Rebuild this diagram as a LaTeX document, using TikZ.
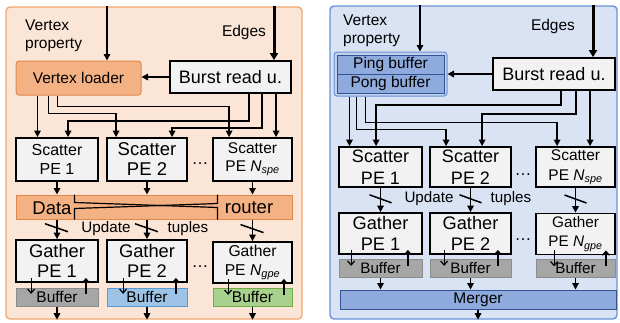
\documentclass[tikz,border=0pt]{standalone}
\usepackage{fontspec}
\setmainfont{Liberation Sans}
\usetikzlibrary{arrows.meta,calc}

\definecolor{lpfill}{HTML}{FBE5D6}
\definecolor{lpdraw}{HTML}{F2A772}
\definecolor{vlfill}{HTML}{F4B183}
\definecolor{vldraw}{HTML}{E0884C}
\definecolor{boxfill}{HTML}{F2F2F2}
\definecolor{grayfill}{HTML}{A6A6A6}
\definecolor{graydraw}{HTML}{8C8C8C}
\definecolor{bluefill}{HTML}{9DC3E6}
\definecolor{bluedraw}{HTML}{5B9BD5}
\definecolor{greenfill}{HTML}{A9D18E}
\definecolor{greendraw}{HTML}{70AD47}
\definecolor{rpfill}{HTML}{DAE3F3}
\definecolor{rpdraw}{HTML}{6A92D8}
\definecolor{ppfill}{HTML}{8FAADC}
\definecolor{ppdraw}{HTML}{2F5597}

\newcommand{\fz}[2]{\fontsize{#1}{#2}\selectfont}

\begin{document}
\begin{tikzpicture}[x=1pt,y=-1pt,
  panel/.style={rounded corners=4pt, line width=1.4pt, inner sep=0pt},
  pe/.style={draw=black, line width=1.8pt, fill=boxfill, align=center, inner sep=0pt},
  conn/.style={line width=1.5pt, -{Triangle[length=6.5pt,width=6.5pt]}},
  thickconn/.style={line width=3pt, -{Triangle[length=7pt,width=8pt]}},
  barb/.style={line width=1.2pt, -{Straight Barb[length=4pt,width=7pt]}},
  wire/.style={line width=1.5pt},
  lbl/.style={inner sep=0pt, align=left},
  buf/.style={line width=1pt, inner sep=0pt, minimum height=18pt},
  dots/.style={inner sep=0pt, anchor=base, font=\fz{17}{18}},
]
\useasboundingbox (0,0) rectangle (620,322);

% ---------------- left panel ----------------
\node[panel, draw=lpdraw, fill=lpfill, minimum width=296pt, minimum height=312pt] (lp) at (154,163) {};

\node[lbl, anchor=west, font=\fz{15.5}{18}] (vp1) at (25,36) {Vertex\\property};
\node[lbl, font=\fz{15.5}{18}] (ed1) at (244,32) {Edges};

\node[draw=vldraw, fill=vlfill, line width=1pt, rounded corners=3pt, inner sep=0pt,
      minimum width=125pt, minimum height=34pt, font=\fz{15.5}{18}] (vl) at (78.5,78) {Vertex loader};
\node[pe, minimum width=121pt, minimum height=32pt, font=\fz{18}{20}] (br) at (230.5,77) {Burst read u.};

\coordinate (vlin) at ([xshift=28.5pt]vl.north);
\draw[conn] (vlin |- lp.north) -- (vlin);
\coordinate (brin) at ([xshift=43.5pt]br.north);
\draw[thickconn] (brin |- lp.north) -- (brin);
\draw[conn] (br.west) -- (br.west -| vl.east);

% scatter PEs
\node[pe, minimum width=82pt, minimum height=43pt, font=\fz{16}{19}] (sp1) at (57,159.5) {Scatter\\PE 1};
\node[pe, minimum width=80pt, minimum height=43pt, font=\fz{18.5}{20}] (sp2) at (147,159.5) {Scatter\\PE 2};
\node[pe, minimum width=79pt, minimum height=43pt, font=\fz{15.5}{18}] (spN) at (252.5,159.5) {Scatter\\PE \textit{N}\textsubscript{\textit{spe}}};
\node[dots] (sd1) at (200,164) {…};

% distribution wires
\coordinate (vlb1) at ([xshift=22pt]vl.south west);
\coordinate (vlb2) at ([xshift=33pt]vl.south west);
\coordinate (vlb3) at ([xshift=42pt]vl.south west);
\coordinate (brb1) at ([xshift=80pt]br.south west);
\coordinate (brb2) at ([xshift=93pt]br.south west);
\coordinate (brb3) at ([xshift=107pt]br.south west);
\draw[conn] (vlb1) -- (vlb1 |- sp1.north);
\draw[conn] (vlb2) -- ++(0,18) -| ([xshift=10pt]sp2.north west);
\draw[conn] (vlb3) -- ++(0,11) -| ([xshift=17pt]spN.north west);
\draw[conn] (brb1) -- ++(0,27) -| ([xshift=53pt]sp1.north west);
\draw[conn] (brb2) -- ++(0,34) -| ([xshift=66pt]sp2.north west);
\draw[conn] (brb3) -- (brb3 |- spN.north);

% data router
\node[draw=vldraw, fill=vlfill, line width=1pt, inner sep=0pt,
      minimum width=276pt, minimum height=24pt] (dr) at (154,207) {};
\node[inner sep=0pt, font=\fz{18.5}{20}] (drl) at (52,208) {Data};
\node[inner sep=0pt, font=\fz{18.5}{20}] (drr) at (249,208) {router};
\coordinate (xa) at ([xshift=59pt]dr.north west);
\draw[line width=1.2pt] (xa) -- ++(0,8) -- ++(143,5) -- ([xshift=202pt]dr.south west);
\draw[line width=1.2pt] (xa |- dr.south) -- ++(0,-11) -- ++(143,-5) -- ([xshift=202pt]dr.north west);

\draw[conn] (sp1.south) -- (sp1.south |- dr.north);
\draw[conn] (sp2.south) -- (sp2.south |- dr.north);
\draw[conn] (spN.south) -- (spN.south |- dr.north);

% gather PEs
\node[pe, minimum width=82pt, minimum height=42pt, font=\fz{18.3}{20}] (gp1) at (57,261) {Gather\\PE 1};
\node[pe, minimum width=80pt, minimum height=42pt, font=\fz{18.3}{20}] (gp2) at (147,261) {Gather\\PE 2};
\node[pe, minimum width=79pt, minimum height=41pt, font=\fz{15.7}{19}] (gpN) at (252.5,262.5) {Gather\\PE \textit{N}\textsubscript{\textit{gpe}}};
\node[dots] (gd1) at (200,267) {…};

\draw[conn] (dr.south -| gp1.north) -- (gp1.north) coordinate[pos=0.42] (u1);
\draw[conn] (dr.south -| gp2.north) -- (gp2.north) coordinate[pos=0.42] (u2);
\draw[conn] (dr.south -| gpN.north) -- (gpN.north) coordinate[pos=0.42] (u3);
\draw[wire] (u1) ++(-12,-4) -- ++(23,8);
\draw[wire] (u2) ++(-12,-4) -- ++(23,8);
\draw[wire] (u3) ++(-12,-4) -- ++(23,8);
\node[inner sep=0pt, font=\fz{15.2}{18}] (upd1) at (106,229) {Update};
\node[inner sep=0pt, font=\fz{15.2}{18}] (tup1) at (188,229) {tuples};

% buffers
\node[buf, draw=graydraw, fill=grayfill, minimum width=82pt, font=\fz{15.5}{16}] (b1) at (57,297) {Buffer};
\node[buf, draw=bluedraw, fill=bluefill, minimum width=80pt, font=\fz{15.5}{16}] (b2) at (147,297) {Buffer};
\node[buf, draw=greendraw, fill=greenfill, minimum width=79pt, font=\fz{15.5}{16}] (b3) at (252.5,297) {Buffer};

\draw[barb] ([xshift=16pt]gp1.south west) ++(0,-5) -- ++(0,16);
\draw[barb] ([xshift=-13pt]gp1.south east) ++(0,11) -- ++(0,-16);
\draw[barb] ([xshift=17pt]gp2.south west) ++(0,-5) -- ++(0,16);
\draw[barb] ([xshift=-12pt]gp2.south east) ++(0,11) -- ++(0,-16);
\draw[barb] ([xshift=16pt]gpN.south west) ++(0,-5) -- ++(0,16);
\draw[barb] ([xshift=-9pt]gpN.south east) ++(0,11) -- ++(0,-16);

\draw[conn] (b1.south) -- (b1.south |- lp.south);
\draw[conn] (b2.south) -- (b2.south |- lp.south);
\draw[conn] (b3.south) -- (b3.south |- lp.south);

% ---------------- right panel ----------------
\node[panel, draw=rpdraw, fill=rpfill, minimum width=287pt, minimum height=313pt] (rp) at (473.5,162.5) {};

\node[lbl, anchor=west, font=\fz{15.5}{18}] (vp2) at (343,31) {Vertex\\property};
\node[lbl, font=\fz{15.5}{18}] (ed2) at (553,26) {Edges};

\node[draw=rpdraw, fill=ppfill!55, line width=1pt, rounded corners=3pt, inner sep=0pt,
      minimum width=113pt, minimum height=44pt] (pp) at (390.5,74) {};
\node[draw=ppdraw, fill=ppfill, line width=1pt, inner sep=0pt,
      minimum width=107pt, minimum height=19pt, font=\fz{15.5}{16}] (ping) at (390.5,64.5) {Ping buffer};
\node[draw=ppdraw, fill=ppfill, line width=1pt, inner sep=0pt,
      minimum width=107pt, minimum height=19pt, font=\fz{15.5}{16}] (pong) at (390.5,83.5) {Pong buffer};
\node[pe, minimum width=122pt, minimum height=32pt, font=\fz{18}{20}] (br2) at (554,74) {Burst read u.};

\coordinate (ppin) at ([xshift=29.5pt]pp.north);
\draw[conn] (ppin |- rp.north) -- (ppin);
\coordinate (br2in) at ([xshift=39pt]br2.north);
\draw[thickconn] (br2in |- rp.north) -- (br2in);
\draw[conn] (br2.west) -- (br2.west -| pp.east);

% scatter PEs
\node[pe, minimum width=83pt, minimum height=40pt, font=\fz{18}{22}] (rs1) at (380.5,167) {Scatter\\PE 1};
\node[pe, minimum width=81pt, minimum height=40pt, font=\fz{18}{22}] (rs2) at (470.5,167) {Scatter\\PE 2};
\node[pe, minimum width=79pt, minimum height=40pt, font=\fz{15.5}{20}] (rsN) at (575.5,167) {Scatter\\PE \textit{N}\textsubscript{\textit{spe}}};
\node[dots] (sd2) at (523,175) {…};

\coordinate (ppb1) at ([xshift=16pt]pp.south west);
\coordinate (ppb2) at ([xshift=23pt]pp.south west);
\coordinate (ppb3) at ([xshift=32pt]pp.south west);
\coordinate (bqb1) at ([xshift=69pt]br2.south west);
\coordinate (bqb2) at ([xshift=84pt]br2.south west);
\coordinate (bqb3) at ([xshift=98pt]br2.south west);
\draw[conn] (ppb1) -- (ppb1 |- rs1.north);
\draw[conn] (ppb2) -- ++(0,33) -| ([xshift=17pt]rs2.north west);
\draw[conn] (ppb3) -- ++(0,26) -| ([xshift=22pt]rsN.north west);
\draw[conn] (bqb1) -- ++(0,14) -| ([xshift=38pt]rs1.north west);
\draw[conn] (bqb2) -- ++(0,23) -| ([xshift=53pt]rs2.north west);
\draw[conn] (bqb3) -- (bqb3 |- rsN.north);

% gather PEs
\node[pe, minimum width=83pt, minimum height=41pt, font=\fz{18.2}{21}] (rg1) at (380.5,233.5) {Gather\\PE 1};
\node[pe, minimum width=81pt, minimum height=41pt, font=\fz{18.2}{21}] (rg2) at (470.5,233.5) {Gather\\PE 2};
\node[pe, minimum width=79pt, minimum height=41pt, font=\fz{15.3}{19}] (rgN) at (575.5,234) {Gather\\PE \textit{N}\textsubscript{\textit{gpe}}};
\node[dots] (gd2) at (523,240) {…};

\draw[conn] (rs1.south) -- (rg1.north) coordinate[pos=0.45] (v1);
\draw[conn] (rs2.south) -- (rg2.north) coordinate[pos=0.45] (v2);
\draw[conn] (rsN.south) -- (rgN.north) coordinate[pos=0.45] (v3);
\draw[wire] (v1) ++(-11,-4) -- ++(22,8);
\draw[wire] (v2) ++(-11,-4) -- ++(22,8);
\draw[wire] (v3) ++(-11,-4) -- ++(22,8);
\node[inner sep=0pt, font=\fz{15.2}{18}] (upd2) at (429,199) {Update};
\node[inner sep=0pt, font=\fz{15.2}{18}] (tup2) at (511,199) {tuples};

\node[buf, draw=graydraw, fill=grayfill, minimum width=83pt, font=\fz{15.2}{16}] (c1) at (380.5,268) {Buffer};
\node[buf, draw=graydraw, fill=grayfill, minimum width=81pt, font=\fz{15.2}{16}] (c2) at (470.5,268) {Buffer};
\node[buf, draw=graydraw, fill=grayfill, minimum width=79pt, font=\fz{15.2}{16}] (c3) at (575.5,268) {Buffer};

\draw[barb] ([xshift=13pt]rg1.south west) ++(0,-5) -- ++(0,16);
\draw[barb] ([xshift=-15pt]rg1.south east) ++(0,11) -- ++(0,-16);
\draw[barb] ([xshift=15pt]rg2.south west) ++(0,-5) -- ++(0,16);
\draw[barb] ([xshift=-14pt]rg2.south east) ++(0,11) -- ++(0,-16);
\draw[barb] ([xshift=19pt]rgN.south west) ++(0,-5) -- ++(0,16);
\draw[barb] ([xshift=-10pt]rgN.south east) ++(0,11) -- ++(0,-16);

\node[draw=ppdraw, fill=ppfill, line width=1pt, inner sep=0pt,
      minimum width=276pt, minimum height=19pt, font=\fz{15.5}{16}] (mg) at (478,299.5) {Merger};
\draw[conn] (c1.south) -- (c1.south |- mg.north);
\draw[conn] (c2.south) -- (c2.south |- mg.north);
\draw[conn] (c3.south) -- (c3.south |- mg.north);
\draw[conn] (mg.south) -- (mg.south |- rp.south);
\end{tikzpicture}
\end{document}
